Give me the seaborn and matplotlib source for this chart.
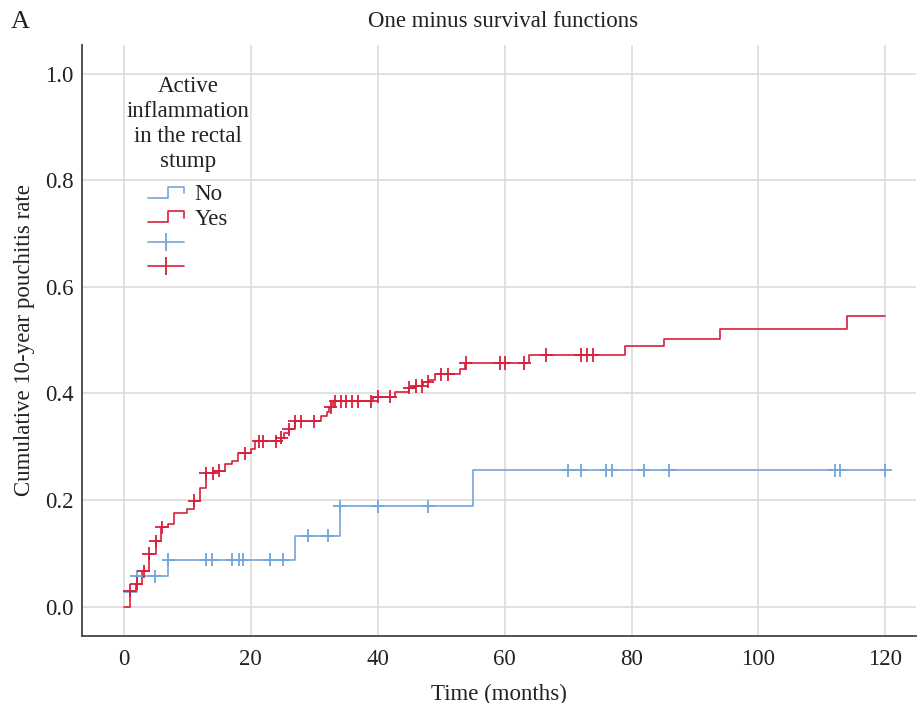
import numpy as np
import pandas as pd
import seaborn as sns
import matplotlib.pyplot as plt
from matplotlib.lines import Line2D
from matplotlib.legend_handler import HandlerBase

sns.set_theme(style='whitegrid')
plt.rcParams['font.family'] = ['Liberation Serif', 'DejaVu Serif']

# step functions: time of each step and value after it
no_t = [0.0, 2.0, 7.0, 27.0, 34.0, 55.0, 120.0]
no_y = [0.027, 0.057, 0.088, 0.133, 0.188, 0.256, 0.256]
yes_t = [0.0, 0.9, 1.9, 2.9, 3.9, 5.0, 5.9, 7.0, 7.9, 9.9, 11.1, 12.0, 12.9,
         14.3, 15.9, 17.0, 18.0, 20.1, 20.6, 24.8, 25.2, 26.0, 26.9, 31.1,
         32.0, 32.4, 33.0, 39.3, 42.8, 44.9, 45.8, 47.2, 48.1, 49.0, 52.9,
         53.7, 63.9, 78.9, 85.1, 94.0, 113.9, 120.0]
yes_y = [0.0, 0.030, 0.043, 0.066, 0.099, 0.123, 0.149, 0.155, 0.176, 0.183,
         0.199, 0.223, 0.250, 0.255, 0.267, 0.273, 0.288, 0.295, 0.310, 0.317,
         0.325, 0.333, 0.348, 0.358, 0.366, 0.374, 0.385, 0.394, 0.403, 0.411,
         0.414, 0.422, 0.426, 0.436, 0.445, 0.457, 0.472, 0.489, 0.502, 0.520,
         0.545, 0.545]

# censored cases
no_cens = [2.0, 4.9, 7.0, 13.0, 13.9, 17.1, 18.1, 18.8, 23.0, 25.0, 29.0, 32.1,
           34.0, 40.0, 48.0, 70.0, 72.0, 76.0, 76.9, 81.9, 85.9, 112.0, 112.9,
           120.0]
yes_cens = [0.9, 2.0, 3.1, 3.9, 5.0, 6.0, 11.1, 12.9, 14.0, 15.0, 19.1, 21.3,
            21.9, 24.0, 24.8, 26.0, 26.9, 27.9, 30.0, 32.6, 33.3, 34.2, 35.0,
            36.0, 36.9, 39.0, 40.0, 42.0, 45.0, 46.1, 47.0, 47.9, 50.0, 51.1,
            53.9, 59.2, 60.0, 63.1, 66.6, 72.0, 73.0, 73.9]

blue = '#74a5db'
red = '#d91f3d'
txt = '#222222'


def at(tt, yy, c):
    i = np.searchsorted(tt, c, side='right') - 1
    return np.array(yy)[i]


curves = pd.concat([
    pd.DataFrame({'t': no_t, 'y': no_y, 'grp': 'No'}),
    pd.DataFrame({'t': yes_t, 'y': yes_y, 'grp': 'Yes'}),
])
cens = pd.concat([
    pd.DataFrame({'t': no_cens, 'y': at(no_t, no_y, no_cens), 'grp': 'No'}),
    pd.DataFrame({'t': yes_cens, 'y': at(yes_t, yes_y, yes_cens), 'grp': 'Yes'}),
])

fig = plt.figure(figsize=(9.17, 7.03), dpi=100)
ax = fig.add_axes([0.0894, 0.0953, 0.91, 0.841])

pal = {'No': blue, 'Yes': red}
sns.lineplot(data=curves, x='t', y='y', hue='grp', palette=pal, estimator=None,
             drawstyle='steps-post', linewidth=1.2, legend=False, ax=ax)
sns.scatterplot(data=cens, x='t', y='y', hue='grp', palette=pal, marker='+',
                s=90, linewidth=1.3, legend=False, ax=ax, zorder=3)

ax.set_xlim(-6.6, 124.9)
ax.set_ylim(-0.055, 1.054)
ax.set_xticks(range(0, 121, 20))
ax.set_yticks([0.0, 0.2, 0.4, 0.6, 0.8, 1.0])
ax.set_yticklabels(['0.0', '0.2', '0.4', '0.6', '0.8', '1.0'])
ax.tick_params(axis='both', labelsize=16.5, colors=txt, length=0)
ax.tick_params(axis='x', pad=9)
ax.tick_params(axis='y', pad=6)
ax.grid(color='#d9d9d9', linewidth=1.1)
for s in ['top', 'right']:
    ax.spines[s].set_visible(False)
for s in ['left', 'bottom']:
    ax.spines[s].set_color('#444444')
    ax.spines[s].set_linewidth(1.3)

ax.set_xlabel('Time (months)', fontsize=16.5, color=txt, labelpad=10)
ax.set_ylabel('Cumulative 10-year pouchitis rate', fontsize=16.5,
              color=txt, labelpad=7)
fig.text(0.549, 0.969, 'One minus survival functions', ha='center',
         va='center', fontsize=16.5, color=txt)
fig.text(0.012, 0.969, 'A', ha='left', va='center', fontsize=19, color=txt)


class StepHandler(HandlerBase):
    def create_artists(self, legend, orig, xd, yd, w, h, fs, trans):
        xs = np.array([0, 0.55, 0.55, 1, 1]) * w - xd
        ys = np.array([0.15, 0.15, 0.85, 0.85, 0.45]) * h - yd
        ln = Line2D(xs, ys, color=orig.get_color(), lw=1.2, transform=trans)
        return [ln]


h_no = Line2D([], [], color=blue)
h_yes = Line2D([], [], color=red)
h_cn = Line2D([], [], color=blue, lw=1.2, marker='|', markersize=13, mew=1.3)
h_cy = Line2D([], [], color=red, lw=1.2, marker='|', markersize=13, mew=1.3)
leg = ax.legend([h_no, h_yes, h_cn, h_cy], ['No', 'Yes', '', ''],
                title='Active\ninflammation\nin the rectal\nstump',
                handler_map={h_no: StepHandler(), h_yes: StepHandler()},
                loc='upper left', bbox_to_anchor=(0.034, 0.975), frameon=False,
                fontsize=16.5, title_fontsize=16.5, handlelength=1.6,
                handletextpad=0.45, labelspacing=0.16, borderaxespad=0.3)
leg._legend_title_box._text.set_linespacing(1.25)
leg._legend_box.sep = 9
leg.get_title().set_multialignment('center')
leg.get_title().set_color(txt)
for t in leg.get_texts():
    t.set_color(txt)

fig.savefig('out.png', dpi=100)
